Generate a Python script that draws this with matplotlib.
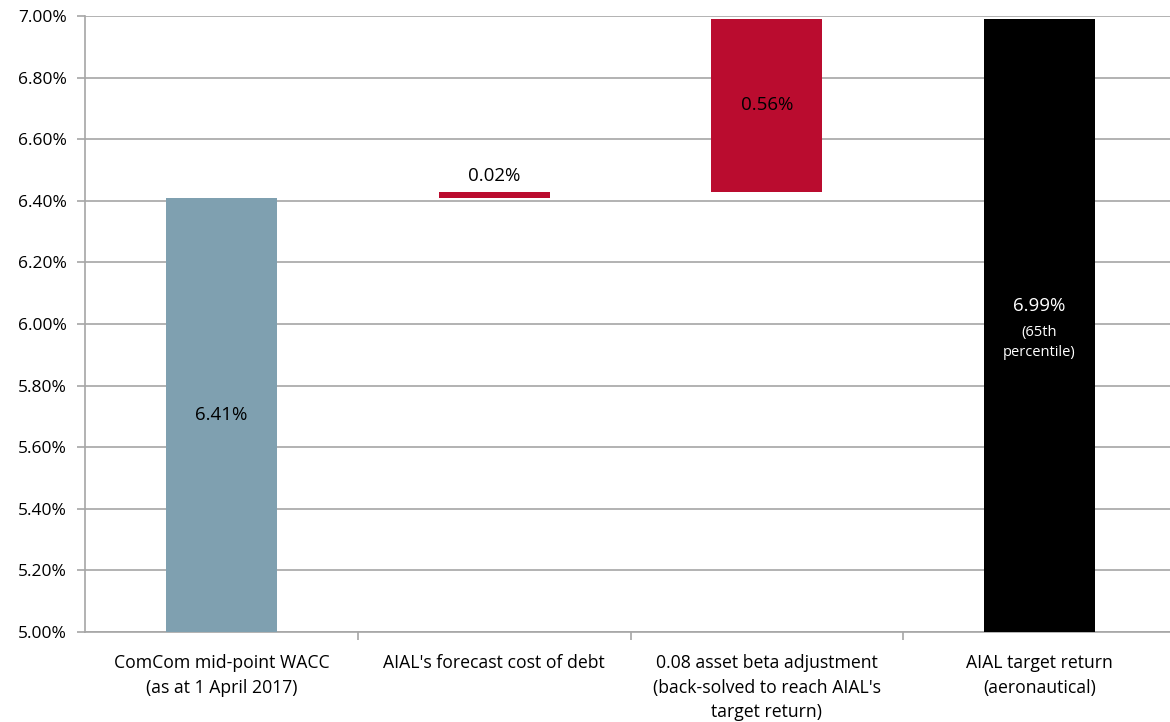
import matplotlib
matplotlib.use("Agg")
import matplotlib.pyplot as plt
from matplotlib.ticker import FuncFormatter, MultipleLocator

categories = ["ComCom mid-point WACC\n(as at 1 April 2017)",
              "AIAL's forecast cost of debt",
              "0.08 asset beta adjustment\n(back-solved to reach AIAL's\ntarget return)",
              "AIAL target return\n(aeronautical)"]
bases = [5.00, 6.41, 6.43, 5.00]
heights = [1.41, 0.02, 0.56, 1.99]
labels = ["6.41%", "0.02%", "0.56%", "6.99%"]
colors = ["#7FA0B0", "#BA0C2F", "#BA0C2F", "#000000"]

plt.rcParams['font.family'] = ['Open Sans', 'DejaVu Sans']

fig = plt.figure(figsize=(11.70, 7.22), dpi=100)
ax = fig.add_axes([85/1170, 90/722, (1176 - 85)/1170, 616/722])

x = list(range(len(categories)))
ax.bar(x, heights, bottom=bases, width=0.407, color=colors, zorder=3)

ax.set_xlim(-0.5, 3.5)
ax.set_ylim(5.0, 7.0)
ax.yaxis.set_major_locator(MultipleLocator(0.2))
ax.yaxis.set_major_formatter(FuncFormatter(lambda v, p: f"{v:.2f}%"))
ax.grid(axis='y', color='#A6A6A6', linewidth=1.2, zorder=0)

for s in ['top', 'right']:
    ax.spines[s].set_visible(False)
for s in ['left', 'bottom']:
    ax.spines[s].set_color('#A6A6A6')
    ax.spines[s].set_linewidth(1.2)

ax.set_xticks([0.5, 1.5, 2.5, 3.5])
ax.set_xticklabels([])
ax.set_xticks(x, minor=True)
ax.set_xticklabels(categories, minor=True, fontsize=12.7, linespacing=1.45)
ax.tick_params(axis='x', which='minor', length=0, pad=16)
ax.tick_params(axis='x', which='major', length=6, color='#A6A6A6', width=1.2)
ax.tick_params(axis='y', length=6, color='#A6A6A6', width=1.2, labelsize=12.5, pad=7)

# data labels
ax.text(0, bases[0] + heights[0] / 2, labels[0], ha='center', va='center', fontsize=13.5, color='black', zorder=4)
ax.text(1, bases[1] + heights[1] + 0.02, labels[1], ha='center', va='bottom', fontsize=13.5, color='black', zorder=4)
ax.text(2, bases[2] + heights[2] / 2, labels[2], ha='center', va='center', fontsize=13.5, color='black', zorder=4)
ax.text(3, 6.06, labels[3], ha='center', va='center', fontsize=13.5, color='white', zorder=4)
ax.text(3, 5.94, "(65th\npercentile)", ha='center', va='center', fontsize=10.5, color='white', linespacing=1.45, zorder=4)

fig.savefig("out.png", dpi=100)
